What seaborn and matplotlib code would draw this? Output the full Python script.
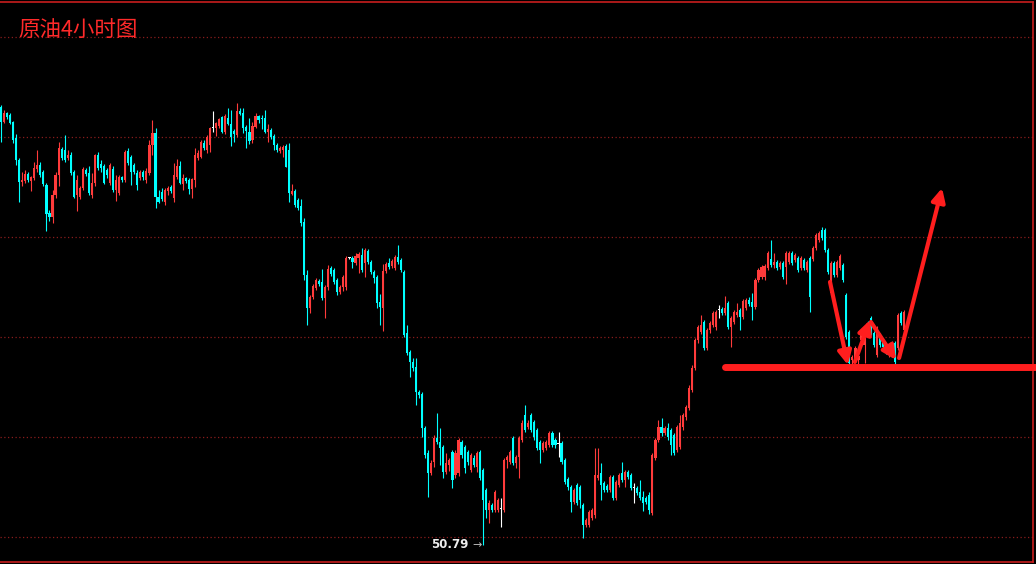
import numpy as np
import pandas as pd
import matplotlib
matplotlib.use("Agg")
import matplotlib.pyplot as plt
import seaborn as sns

# 4h candles (price units)
opens = [
    55.17, 55.02, 55.11, 55.09, 55.02, 54.86, 54.64, 54.42, 54.43, 54.50,
    54.43, 54.46, 54.55, 54.59, 54.52, 54.39, 54.11, 54.07, 54.29, 54.49,
    54.75, 54.74, 54.66, 54.69, 54.52, 54.29, 54.27, 54.36, 54.54, 54.51,
    54.29, 54.41, 54.69, 54.60, 54.58, 54.54, 54.41, 54.55, 54.34, 54.31,
    54.47, 54.44, 54.73, 54.67, 54.59, 54.51, 54.46, 54.52, 54.44, 54.51,
    54.79, 54.91, 54.27, 54.32, 54.22, 54.33, 54.37, 54.26, 54.47, 54.58,
    54.40, 54.46, 54.44, 54.35, 54.44, 54.66, 54.67, 54.81, 54.74, 54.79,
    54.96, 54.96, 54.98, 55.07, 54.92, 55.06, 55.00, 54.93, 54.89, 55.13,
    55.11, 54.97, 54.92, 54.84, 54.97, 55.08, 55.06, 55.06, 54.92, 54.94,
    54.88, 54.79,
    54.73,
    54.74, 54.78, 54.74, 54.30, 54.33, 54.24, 54.18, 54.02,
    53.49, 53.16, 53.27, 53.36, 53.43, 53.42, 53.26, 53.37,
    53.56,
    53.54, 53.44, 53.32, 53.37, 53.37, 53.66, 53.66, 53.61, 53.66, 53.69,
    53.61, 53.73, 53.62, 53.52, 53.47, 53.22, 53.16, 53.53, 53.61,
    53.58,
    53.56, 53.67, 53.64, 53.52, 52.91, 52.72, 52.62, 52.57, 52.32, 52.30,
    51.96, 51.71, 51.51, 51.62, 51.86, 51.82, 51.77, 51.52, 51.59, 51.72, 51.49, 51.51,
    51.82,
    51.77, 51.72, 51.54, 51.66, 51.57, 51.72, 51.54, 51.34, 51.14, 51.19, 51.14,
    51.14, 51.15, 51.14, 51.64, 51.62,
    51.86, 51.61, 51.67, 51.84,
    52.09,
    51.97, 52.09, 52.02,
    51.94, 51.82, 51.74, 51.76, 51.79, 51.91, 51.84, 51.80, 51.81, 51.64,
    51.45, 51.37, 51.22, 51.39, 51.37, 51.19, 50.99, 50.99, 51.06, 51.09,
    51.46, 51.51, 51.41, 51.38, 51.34, 51.47, 51.26, 51.39, 51.51, 51.44,
    51.52, 51.49, 51.36, 51.36, 51.32, 51.27, 51.26, 51.29, 51.11, 51.66,
    51.84, 51.97, 51.91, 51.96, 51.94, 51.89, 51.74, 51.77, 51.97, 52.07,
    52.16, 52.34, 52.56, 52.84, 52.92, 53.02, 52.76, 52.94, 52.99, 52.97,
    53.14, 53.15, 53.11, 53.21, 52.97, 53.02, 53.09, 53.14, 53.07, 53.16,
    53.24,
    53.22, 53.17, 53.44, 53.47, 53.47, 53.56, 53.65, 53.59, 53.62, 53.57,
    53.61, 53.57, 53.62, 53.71, 53.64, 53.66, 53.56, 53.64, 53.54, 53.66,
    53.65, 53.76, 53.84, 53.94, 53.94, 53.74, 53.31, 53.61, 53.49, 53.56,
    53.59, 53.29, 52.92, 52.64, 52.66, 52.64, 52.84, 52.79, 53.01, 53.06,
    52.91, 52.69, 52.89, 52.82, 52.77, 52.69, 52.76, 52.81, 52.76, 53.11, 52.94,
]
highs = [
    55.19, 55.14, 55.12, 55.11, 55.03, 54.90, 54.66, 54.52, 54.54, 54.52,
    54.48, 54.62, 54.74, 54.62, 54.54, 54.41, 54.14, 54.34, 54.52, 54.82,
    54.77, 54.89, 54.74, 54.72, 54.54, 54.49, 54.38, 54.57, 54.56, 54.58,
    54.51, 54.70, 54.72, 54.64, 54.60, 54.56, 54.61, 54.58, 54.49, 54.49,
    54.48, 54.74, 54.76, 54.69, 54.61, 54.54, 54.54, 54.54, 54.56, 54.84,
    55.04, 54.96, 54.34, 54.36, 54.36, 54.38, 54.39, 54.61, 54.65, 54.63,
    54.50, 54.47, 54.46, 54.46, 54.76, 54.74, 54.84, 54.84, 54.89, 54.97,
    55.13, 55.02, 55.06, 55.08, 55.10, 55.16, 55.14, 54.95, 55.21, 55.16,
    55.16, 54.99, 55.06, 55.02, 55.11, 55.09, 55.09, 55.14, 55.00, 54.96,
    54.90, 54.81,
    54.78,
    54.79, 54.80, 54.81, 54.40, 54.35, 54.26, 54.25, 54.06,
    53.54, 53.29, 53.40, 53.46, 53.45, 53.55, 53.39, 53.59,
    53.58,
    53.56, 53.46, 53.39, 53.49, 53.68, 53.67, 53.68, 53.71, 53.72, 53.76,
    53.76, 53.75, 53.64, 53.54, 53.49, 53.30, 53.60, 53.62, 53.66,
    53.65,
    53.69, 53.79, 53.66, 53.54, 52.99, 52.74, 52.66, 52.66, 52.34, 52.32,
    51.98, 51.74, 51.64, 51.89, 52.11, 51.96, 51.79, 51.71, 51.66, 51.74, 51.74, 51.86,
    51.84,
    51.79, 51.74, 51.71, 51.69, 51.73, 51.74, 51.56, 51.36, 51.24, 51.21, 51.34,
    51.26, 51.26, 51.66, 51.69, 51.74,
    51.88, 51.69, 51.88, 52.04,
    52.19,
    52.04, 52.11, 52.04,
    51.96, 51.84, 51.83, 51.84, 51.93, 51.93, 51.86, 51.92, 51.83, 51.66,
    51.47, 51.39, 51.36, 51.41, 51.39, 51.21, 51.06, 51.14, 51.16, 51.76,
    51.76, 51.61, 51.43, 51.40, 51.49, 51.49, 51.44, 51.51, 51.62, 51.54,
    51.54, 51.51, 51.41, 51.38, 51.44, 51.33, 51.28, 51.32, 51.71, 51.86,
    52.04, 52.06, 51.98, 52.01, 51.96, 51.91, 51.99, 52.09, 52.11, 52.19,
    52.39, 52.59, 52.86, 52.99, 53.09, 53.04, 52.96, 53.03, 53.13, 53.14,
    53.19, 53.17, 53.28, 53.23, 53.08, 53.14, 53.21, 53.16, 53.25, 53.26,
    53.27,
    53.31, 53.46, 53.56, 53.59, 53.60, 53.73, 53.84, 53.71, 53.64, 53.63,
    53.63, 53.73, 53.73, 53.73, 53.71, 53.68, 53.68, 53.66, 53.64, 53.68,
    53.78, 53.91, 53.93, 53.97, 53.96, 53.76, 53.63, 53.63, 53.64, 53.70,
    53.61, 53.31, 52.94, 52.69, 52.78, 52.70, 52.96, 52.87, 53.03, 53.08,
    52.93, 52.98, 52.91, 52.84, 52.79, 52.76, 52.83, 52.83, 53.11, 53.13, 53.14,
]
lows = [
    54.82, 55.01, 55.05, 55.00, 54.81, 54.59, 54.22, 54.38, 54.41, 54.42,
    54.33, 54.44, 54.52, 54.47, 54.38, 53.93, 54.03, 54.01, 54.26, 54.38,
    54.64, 54.62, 54.64, 54.49, 54.26, 54.13, 54.25, 54.34, 54.48, 54.29,
    54.26, 54.38, 54.54, 54.52, 54.40, 54.46, 54.39, 54.32, 54.23, 54.29,
    54.42, 54.42, 54.59, 54.39, 54.50, 54.34, 54.44, 54.44, 54.41, 54.49,
    54.69, 54.16, 54.21, 54.23, 54.19, 54.29, 54.31, 54.22, 54.45, 54.40,
    54.34, 54.41, 54.30, 54.26, 54.37, 54.64, 54.66, 54.74, 54.71, 54.72,
    54.92, 54.88, 54.96, 54.91, 54.90, 54.99, 54.78, 54.82, 54.87, 55.09,
    54.91, 54.76, 54.80, 54.81, 54.96, 55.01, 54.95, 54.91, 54.82, 54.85,
    54.74, 54.72,
    54.71,
    54.67, 54.57, 54.22, 54.29, 54.17, 54.14, 53.98, 53.44,
    52.99, 53.11, 53.25, 53.34, 53.38, 53.24, 53.06, 53.34,
    53.48,
    53.40, 53.29, 53.30, 53.33, 53.34, 53.65, 53.56, 53.59, 53.51, 53.52,
    53.47, 53.60, 53.50, 53.41, 53.16, 52.99, 52.93, 53.51, 53.55,
    53.56,
    53.54, 53.60, 53.52, 52.87, 52.69, 52.47, 52.53, 52.19, 52.26, 51.87,
    51.66, 51.27, 51.49, 51.57, 51.80, 51.59, 51.46, 51.50, 51.53, 51.36, 51.46, 51.48,
    51.66,
    51.51, 51.59, 51.52, 51.57, 51.52, 51.44, 50.79, 51.06, 51.01, 51.12, 51.12,
    51.12, 50.97, 51.12, 51.56, 51.60,
    51.59, 51.56, 51.46, 51.82,
    51.92,
    51.95, 51.92, 51.84,
    51.74, 51.61, 51.72, 51.74, 51.77, 51.77, 51.76, 51.67, 51.60, 51.40,
    51.34, 51.12, 51.20, 51.19, 51.16, 50.86, 50.97, 50.97, 51.04, 51.06,
    51.44, 51.24, 51.32, 51.32, 51.32, 51.24, 51.24, 51.37, 51.42, 51.37,
    51.45, 51.34, 51.21, 51.29, 51.24, 51.13, 51.20, 51.10, 51.09, 51.64,
    51.82, 51.88, 51.89, 51.84, 51.69, 51.69, 51.72, 51.75, 51.94, 52.04,
    52.14, 52.32, 52.54, 52.81, 52.90, 52.74, 52.74, 52.91, 52.97, 52.94,
    53.06, 53.09, 53.09, 52.95, 52.77, 53.00, 53.07, 52.94, 53.05, 53.14,
    53.18,
    53.04, 53.15, 53.42, 53.45, 53.44, 53.54, 53.57, 53.56, 53.54, 53.55,
    53.45, 53.40, 53.60, 53.59, 53.62, 53.52, 53.54, 53.54, 53.52, 53.12,
    53.63, 53.74, 53.82, 53.84, 53.72, 53.50, 53.29, 53.47, 53.47, 53.54,
    53.42, 52.85, 52.59, 52.59, 52.62, 52.60, 52.82, 52.61, 52.92, 52.89,
    52.77, 52.67, 52.77, 52.75, 52.70, 52.67, 52.74, 52.60, 52.74, 52.99, 52.92,
]
closes = [
    55.02, 55.11, 55.07, 55.01, 54.84, 54.64, 54.42, 54.44, 54.50, 54.44,
    54.47, 54.56, 54.59, 54.49, 54.40, 54.10, 54.07, 54.29, 54.49, 54.76,
    54.66, 54.64, 54.69, 54.51, 54.27, 54.44, 54.36, 54.55, 54.50, 54.31,
    54.41, 54.69, 54.56, 54.56, 54.41, 54.49, 54.59, 54.34, 54.44, 54.47,
    54.44, 54.72, 54.61, 54.52, 54.52, 54.39, 54.52, 54.47, 54.53, 54.79,
    54.91, 54.27, 54.22, 54.25, 54.34, 54.36, 54.33, 54.49, 54.58, 54.41,
    54.46, 54.43, 54.35, 54.45, 54.69, 54.71, 54.82, 54.76, 54.87, 54.96,
    54.96, 55.01, 55.05, 54.92, 55.08, 55.00, 54.87, 54.90, 55.13, 55.10,
    54.96, 54.93, 54.83, 54.98, 55.08, 55.04, 55.05, 54.92, 54.95, 54.87,
    54.79, 54.74,
    54.76,
    54.77, 54.57, 54.31, 54.33, 54.19, 54.16, 54.01, 53.49,
    53.16, 53.27, 53.38, 53.44, 53.40, 53.26, 53.37, 53.55,
    53.50,
    53.42, 53.32, 53.37, 53.47, 53.66, 53.66, 53.62, 53.68, 53.70, 53.54,
    53.74, 53.62, 53.52, 53.46, 53.21, 53.17, 53.53, 53.60, 53.57,
    53.63,
    53.67, 53.62, 53.54, 52.89, 52.71, 52.62, 52.56, 52.32, 52.29, 51.96,
    51.69, 51.51, 51.61, 51.86, 51.82, 51.76, 51.52, 51.61, 51.64, 51.44, 51.71, 51.84,
    51.69,
    51.56, 51.62, 51.69, 51.59, 51.71, 51.46, 51.24, 51.14, 51.21, 51.14, 51.32,
    51.24, 51.15, 51.64, 51.67, 51.72,
    51.61, 51.67, 51.86, 52.01,
    51.94,
    52.01, 51.94, 51.87,
    51.76, 51.74, 51.81, 51.82, 51.91, 51.79, 51.79, 51.80, 51.62, 51.42,
    51.37, 51.22, 51.34, 51.21, 51.24, 50.99, 51.04, 51.12, 51.14, 51.49,
    51.49, 51.39, 51.34, 51.34, 51.47, 51.26, 51.42, 51.49, 51.44, 51.52,
    51.47, 51.36, 51.36, 51.31, 51.26, 51.21, 51.22, 51.14, 51.69, 51.84,
    51.97, 51.91, 51.96, 51.87, 51.79, 51.71, 51.97, 52.01, 52.09, 52.17,
    52.36, 52.56, 52.84, 52.97, 52.99, 52.76, 52.94, 53.01, 53.11, 53.12,
    53.14, 53.11, 53.16, 52.97, 53.06, 53.12, 53.12, 53.07, 53.23, 53.24,
    53.20,
    53.17, 53.44, 53.54, 53.57, 53.58, 53.71, 53.59, 53.62, 53.56, 53.61,
    53.47, 53.71, 53.71, 53.61, 53.69, 53.54, 53.66, 53.56, 53.62, 53.27,
    53.76, 53.89, 53.91, 53.86, 53.74, 53.52, 53.61, 53.49, 53.62, 53.68,
    53.44, 52.87, 52.61, 52.67, 52.76, 52.68, 52.94, 52.84, 52.94, 52.91,
    52.79, 52.96, 52.79, 52.77, 52.72, 52.74, 52.81, 52.62, 53.09, 53.01, 53.12,
]

title = "原油4小时图"
grid_levels = [55.87, 54.87, 53.87, 52.87, 51.87, 50.87]
support_level = 52.57
support_start = 239
# hand-drawn arrows: (start, end) in (bar index, price)
arrow_paths = [
    ((273.6, 53.42), (279.5, 52.59)),
    ((281.8, 52.62), (286.8, 53.04)),
    ((287.1, 53.02), (295.4, 52.64)),
    ((296.4, 52.66), (310.6, 54.36)),
]

assert len(opens) == len(highs) == len(lows) == len(closes)

sns.set_theme(style="dark", rc={"axes.facecolor": "#000000", "figure.facecolor": "#000000"})
plt.rcParams['font.family'] = ['Noto Sans CJK SC', 'DejaVu Sans']

up_col, down_col, flat_col = "#FF3B3B", "#00FFFF", "#FFFFFF"
red_line = "#FF1E1E"

df = pd.DataFrame({"open": opens, "high": highs, "low": lows, "close": closes})
df["idx"] = np.arange(len(df))
df["color"] = np.where(df.close > df.open, up_col,
                       np.where(df.close < df.open, down_col, flat_col))

fig = plt.figure(figsize=(10.36, 5.64), dpi=100)
ax = fig.add_axes([0, 2 / 564, 1033 / 1036, 560 / 564])
ax.set_facecolor("#000000")

ax.vlines(df.idx, df.low, df.high, colors=df.color, lw=0.8)
body = (df.close - df.open).abs().clip(lower=0.012)
ax.bar(df.idx, body, bottom=df[["open", "close"]].min(axis=1), width=0.7,
       color=df.color, linewidth=0)

ax.set_xlim(-0.33, 340.6)
ax.set_ylim(50.62, 56.22)

ax.set_yticks(grid_levels)
ax.set_xticks([])
ax.tick_params(length=0, labelleft=False, labelbottom=False)
ax.grid(axis="y", color="#8a1c1c", linestyle=(0, (1, 2)), lw=0.9)
ax.grid(axis="x", visible=False)
for side in ["top", "bottom", "right"]:
    ax.spines[side].set_visible(True)
    ax.spines[side].set_color("#C81E1E")
    ax.spines[side].set_linewidth(1.2)
ax.spines["left"].set_visible(False)

# support line and arrows
ax.plot([support_start, 345], [support_level, support_level], color=red_line, lw=5,
        solid_capstyle="round", clip_on=False, zorder=5)
for start, end in arrow_paths:
    ax.annotate("", xy=end, xytext=start,
                arrowprops=dict(arrowstyle="-|>", color=red_line, lw=3,
                                mutation_scale=20, shrinkA=0, shrinkB=0),
                zorder=6)

# lowest price marker
low_i = int(df.low.idxmin())
low_v = df.low.min()
ax.annotate("→", xy=(low_i, low_v), xytext=(-1, 0), textcoords="offset points",
            ha="right", va="center", color="#BBBBBB", fontsize=8, family="DejaVu Sans")
ax.annotate(f"{low_v:.2f}", xy=(low_i, low_v), xytext=(-10, 0), textcoords="offset points",
            ha="right", va="center", color="#EEEEEE", fontsize=8.5, fontweight="bold",
            family="DejaVu Sans")

ax.text(0.0174, 0.948, title, transform=ax.transAxes, color="#FF2A2A", fontsize=15.5,
        ha="left", va="center")

fig.savefig("out.png", dpi=100, facecolor="#000000")
